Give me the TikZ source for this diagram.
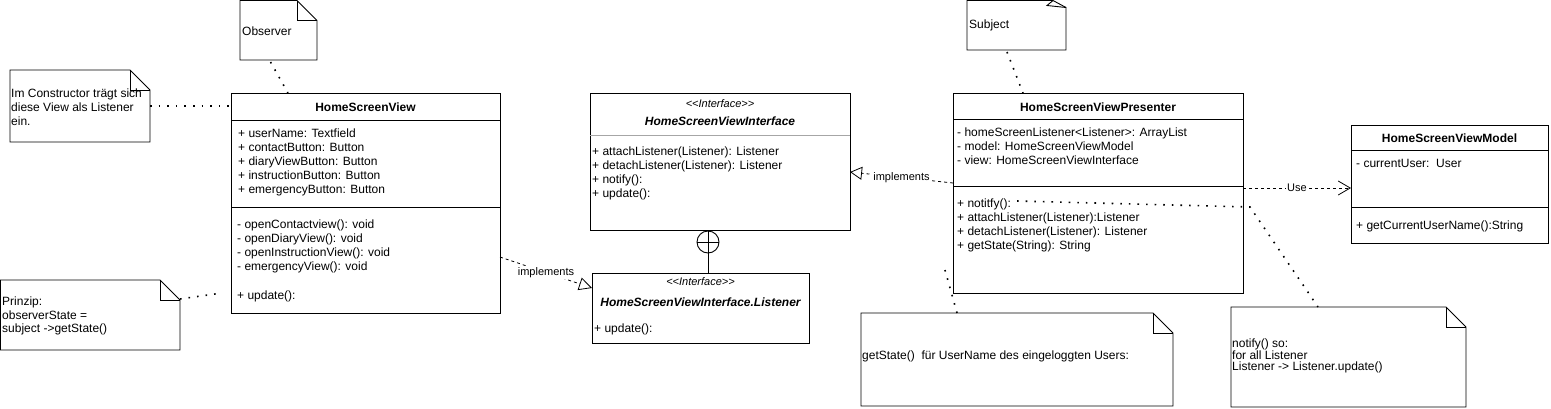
\documentclass[tikz,border=0pt]{standalone}
\usepackage{fontspec}
\setmainfont{Liberation Sans}
\usetikzlibrary{arrows.meta}
\newcommand{\umlnote}[5]{%
  \node[notearea, minimum width=#4pt, minimum height=#5pt] (#1) at (#2,#3) {};
  \draw[noteline] (#1.north west) -- ([xshift=-20pt]#1.north east) -- ([yshift=-20pt]#1.north east) -- (#1.south east) -- (#1.south west) -- cycle;
  \draw[noteline] ([xshift=-20pt]#1.north east) |- ([yshift=-20pt]#1.north east);}
\begin{document}
\begin{tikzpicture}[x=1pt, y=-1pt,
 classbox/.style={rectangle, draw=black, line width=0.9pt, inner sep=0pt, outer sep=0pt, anchor=north west},
 boxline/.style={draw=black, line width=0.9pt},
 notearea/.style={rectangle, inner sep=0pt, outer sep=0pt, anchor=north west},
 noteline/.style={draw=black, line width=0.9pt, line join=miter},
 txt/.style={anchor=west, inner sep=0pt, font=\fontsize{12}{14}\selectfont, text height=9.5pt, text depth=1.5pt},
 ttl/.style={inner sep=0pt, font=\fontsize{12}{14}\selectfont\bfseries},
 ittl/.style={inner sep=0pt, font=\fontsize{12}{14}\selectfont\bfseries\itshape},
 stereo/.style={inner sep=0pt, font=\fontsize{11}{13}\selectfont\itshape},
 notetxt/.style={anchor=west, inner sep=0pt, align=left, font=\fontsize{12}{14}\selectfont},
 dotline/.style={line width=1.6pt, dash pattern=on 1.6pt off 7pt},
 dashline/.style={line width=0.8pt, dash pattern=on 3pt off 3pt},
 lbl/.style={fill=white, inner sep=1pt, font=\fontsize{11}{13}\selectfont},
]
\useasboundingbox (0,0) rectangle (1551,408);

% ---------- notes ----------
\umlnote{obsnote}{240}{0.5}{77}{59.5}
\node[notetxt] (obstxt) at (242,31) {Observer};

\umlnote{ctor}{10}{70}{140}{72}
\node[notetxt] (ctortxt) at (11,107) {Im Constructor trägt sich\\diese View als Listener\\ein.};

\umlnote{prz}{0.5}{280}{179.5}{70}
\node[notetxt, font=\fontsize{12}{13.5}\selectfont] (prztxt) at (2,316) {Prinzip:\\observerState =\\subject ->getState()};

\node[notearea, minimum width=99pt, minimum height=49.5pt] (sub) at (967,0.5) {};
\draw[noteline] (sub.south west) -- (sub.north west) -- ([xshift=-13pt]sub.north east) -- ([yshift=-7pt]sub.north east) -- (sub.south east) -- cycle;
\draw[noteline] ([xshift=-13pt]sub.north east) -- ([xshift=-19pt,yshift=-5pt]sub.north east) -- ([yshift=-7pt]sub.north east);
\node[notetxt] (subtxt) at (969,25) {Subject};

\umlnote{gs}{861}{313}{312}{93}
\node[notetxt] (gstxt) at (862,356) {getState()\ \ für UserName des eingeloggten Users:};

\umlnote{nfy}{1231}{307}{235}{100}
\node[notetxt, font=\fontsize{12}{11.8}\selectfont] (nfytxt) at (1232,356) {notify() so:\\for all Listener\\Listener -> Listener.update()};

% ---------- HomeScreenView ----------
\node[classbox, minimum width=269pt, minimum height=220pt] (hsv) at (231,93) {};
\draw[boxline] ([yshift=-27pt]hsv.north west) -- ([yshift=-27pt]hsv.north east);
\draw[boxline] ([yshift=-114pt]hsv.north west) -- ([yshift=-114pt]hsv.north east);
\node[ttl] (hsvt) at (365.5,107) {HomeScreenView};
\node[txt] (hsva1) at (238,133) {+ userName: Textfield};
\node[txt] (hsva2) at (238,147) {+ contactButton: Button};
\node[txt] (hsva3) at (238,161) {+ diaryViewButton: Button};
\node[txt] (hsva4) at (238,175) {+ instructionButton: Button};
\node[txt] (hsva5) at (238,189) {+ emergencyButton: Button};
\node[txt] (hsvm1) at (237,224) {- openContactview(): void};
\node[txt] (hsvm2) at (237,238) {- openDiaryView(): void};
\node[txt] (hsvm3) at (237,252) {- openInstructionView(): void};
\node[txt] (hsvm4) at (237,266) {- emergencyView(): void};
\node[txt] (hsvm5) at (237,295) {+ update():};

% ---------- HomeScreenViewInterface ----------
\node[classbox, minimum width=260pt, minimum height=137pt] (ifc) at (590,93) {};
\draw[draw=gray!70, line width=0.9pt] ([yshift=-42pt]ifc.north west) -- ([yshift=-42pt]ifc.north east);
\node[stereo] (ifcs) at (720,104) {<{}<Interface>{}>};
\node[ittl] (ifct) at (720,121) {HomeScreenViewInterface};
\node[txt] (ifcm1) at (592,151) {+ attachListener(Listener): Listener};
\node[txt] (ifcm2) at (592,165) {+ detachListener(Listener): Listener};
\node[txt] (ifcm3) at (592,179) {+ notify():};
\node[txt] (ifcm4) at (592,193) {+ update():};

% ---------- Listener ----------
\node[classbox, minimum width=217pt, minimum height=70pt] (li) at (592,273) {};
\node[stereo] (lis) at (700.5,282) {<{}<Interface>{}>};
\node[ittl] (lit) at (700.5,302) {HomeScreenViewInterface.Listener};
\node[txt] (lim1) at (594,328) {+ update():};

% nesting symbol
\node[circle, draw=black, line width=0.9pt, minimum size=22pt, inner sep=0pt] (nest) at (708,242) {};
\draw[line width=0.9pt] (nest.north) -- (nest.south) (nest.west) -- (nest.east);
\draw[line width=0.9pt] (nest.south) -- (nest.south |- li.north);

% ---------- Presenter ----------
\node[classbox, minimum width=290pt, minimum height=200pt] (pr) at (953,93) {};
\draw[boxline] ([yshift=-26pt]pr.north west) -- ([yshift=-26pt]pr.north east);
\draw[boxline] ([yshift=-93pt]pr.north west) -- ([yshift=-93pt]pr.north east);
\node[ttl] (prt) at (1098,107) {HomeScreenViewPresenter};
\node[txt] (pra1) at (957,132) {- homeScreenListener<Listener>: ArrayList};
\node[txt] (pra2) at (957,146) {- model: HomeScreenViewModel};
\node[txt] (pra3) at (957,160) {- view: HomeScreenViewInterface};
\node[txt] (prm1) at (957,203) {+ notitfy():};
\node[txt] (prm2) at (957,217) {+ attachListener(Listener):Listener};
\node[txt] (prm3) at (957,231) {+ detachListener(Listener): Listener};
\node[txt] (prm4) at (957,245) {+ getState(String): String};

% ---------- Model ----------
\node[classbox, minimum width=197pt, minimum height=118pt] (mo) at (1351,125) {};
\draw[boxline] ([yshift=-25pt]mo.north west) -- ([yshift=-25pt]mo.north east);
\draw[boxline] ([yshift=-82pt]mo.north west) -- ([yshift=-82pt]mo.north east);
\node[ttl] (mot) at (1449.5,138) {HomeScreenViewModel};
\node[txt] (moa1) at (1356,163) {- currentUser:\ \ User};
\node[txt] (mom1) at (1356,225) {+ getCurrentUserName():String};

% ---------- connectors ----------
\draw[dotline] ([xshift=-8pt,yshift=-2pt]obsnote.south) -- ([xshift=57pt]hsv.north west);
\draw[dotline] (ctor.east) -- (ctor.east -| hsv.west);
\draw[dotline] ([yshift=-19pt]prz.north east) -- ([xshift=-9pt,yshift=-200pt]hsv.north west);
\draw[dotline] ([xshift=40pt,yshift=-2pt]sub.south west) -- ([xshift=70pt]pr.north west);
\draw[dotline] ([xshift=-8pt,yshift=-177pt]pr.north west) -- ([xshift=96pt]gs.north west);
\coordinate (bend) at (1250,207);
\draw[dotline] ([xshift=6pt,yshift=2pt]prm1.east) -- (bend) -- ([xshift=87pt]nfy.north west);

\draw[dashline, -{Triangle[open, length=13pt, width=13pt]}] ([yshift=-164pt]hsv.north east) -- node[lbl, pos=0.5] (impl1) {implements} ([yshift=-15pt]li.north west);
\draw[dashline, -{Triangle[open, length=12pt, width=13pt]}] ([yshift=-90pt]pr.north west) -- node[lbl, pos=0.5] (impl2) {implements} ([yshift=-79pt]ifc.north east);
\draw[dashline, -{Straight Barb[length=12pt, width=14pt]}] ([yshift=-95pt]pr.north east) -- node[lbl, pos=0.5] (use) {Use} ([yshift=-63pt]mo.north west);
\end{tikzpicture}
\end{document}
